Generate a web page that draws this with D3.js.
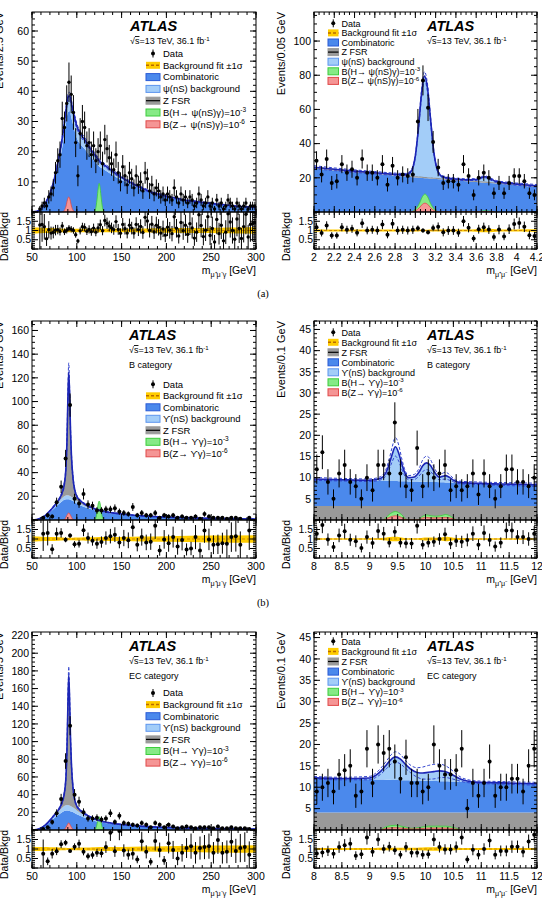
<!DOCTYPE html>
<html>
<head>
<meta charset="utf-8">
<script src="https://cdn.jsdelivr.net/npm/d3@7"></script>
<style>
  body { margin: 0; background: #fff; }
  text { font-family: "Liberation Sans", Arial, Helvetica, sans-serif; fill: #000; }
</style>
</head>
<body>
<svg id="fig" width="542" height="907"></svg>
<script>
// ---------------- data ----------------

// (a) left: m(mu mu gamma), psi selection, 2.5 GeV bins from 50 to 300
const aL_bins = { start: 50, width: 2.5 };
const aL_data = [0,0,0,1,2,3,2,5,6,8, 13,17,19,31,28,36,43,39,33,23,
  12,26,30,28,22,23,19,22,17,20, 22,16,24,21,18,16,14,19,13,10,
  15,12,9,13,11,8,12,9,10,7, 13,11,7,9,6,8,7,5,6,4,
  6,5,4,8,5,3,6,4,5,3, 5,4,2,3,6,4,2,3,5,2,
  3,1,4,2,3,1,2,4,3,2, 1,3,2,1,2,3,1,2,2,2];
const aL_ratio = [null,null,null,1.3,1.33,1.2,0.56,1.04,0.86,0.89,
  1.02,1.05,0.95,1.24,0.93,1.01,1.12,1.07,1.0,0.77,
  0.43,0.98,1.2,1.17,0.96,1.06,0.93,1.13,0.91,1.14,
  1.31,0.99,1.54,1.39,1.24,1.14,1.05,1.48,1.06,0.85,
  1.33,1.1,0.86,1.29,1.13,0.86,1.33,1.05,1.22,0.89,
  1.71,1.51,1.0,1.34,0.92,1.29,1.17,0.86,1.09,0.75,
  1.18,1.01,0.83,1.74,1.12,0.7,1.43,0.99,1.28,0.79,
  1.37,1.14,0.59,0.91,1.85,1.27,0.67,1.02,1.75,0.73,
  1.11,0.38,1.6,0.83,1.28,0.44,0.91,1.9,1.46,1.0,
  0.53,1.62,1.11,0.57,1.21,1.88,0.65,1.33,1.38,1.43];
const aL_curveX = [50,55,60,65,70,75,80,85,88,90,92,94,97,100,105,110,115,120,125,130,140,150,160,170,180,190,200,220,240,260,280,300];
const aL_comb = [0.05,0.2,0.9,2.7,5.4,10,16,23.5,29.5,33,33.5,31.2,27.6,24.5,22.1,20.5,18.4,16.8,15.1,14.2,12.3,10.6,9.2,7.9,6.7,5.8,5.05,3.9,3.2,2.5,1.9,1.5];
const aL_psi = [0,0,0.1,0.3,0.6,1,2,3.5,4.5,5,5,4.8,4.4,4,3.4,3,2.6,2.2,1.9,1.6,1.2,0.9,0.6,0.4,0.3,0.2,0.15,0.1,0,0,0,0];
const aL_err = [0.004,0.016,0.1,0.2,0.3,0.5,0.7,0.9,1.1,1.2,1.2,1.1,1.0,0.9,0.8,0.75,0.7,0.65,0.6,0.55,0.5,0.45,0.4,0.36,0.32,0.3,0.27,0.22,0.2,0.18,0.15,0.14];
const aL_band = [0.16,0.16,0.15,0.14,0.13,0.12,0.11,0.1,0.09,0.09,0.09,0.09,0.09,0.09,0.09,0.09,0.09,0.09,0.09,0.09,0.1,0.1,0.1,0.11,0.11,0.12,0.12,0.13,0.14,0.15,0.16,0.17];
const aL_hX = [119,121,122.5,124,125,126,127.5,129,131];
const aL_hY = [0,1,4,8,9.5,8,4,1,0];
const aL_zX = [84,86,88,89.5,91,92.5,94,96,98];
const aL_zY = [0,0.5,2,4,5,4,2,0.5,0];

// (a) right: m(mu mu), 0.05 GeV bins from 2 to 4.2
const aR_bins = { start: 2, width: 0.05 };
const aR_data = [30,22,31,17,18,28,23,25,20,31, 23,23,20,28,16,27,20,22,21,22,
  53,77,61,41,26,17,18,18,16,28, 21,10,20,23,20,11,17,11,17,21, 21,18,11,10];
const aR_ratio = [1.18,0.86,1.27,0.73,0.73,1.18,1.04,1.09,0.88,1.39,
  1.0,1.04,1.0,1.32,0.77,1.36,1.0,1.04,1.0,1.04,
  1.12,1.0,0.9,1.14,1.2,0.9,1.0,1.0,0.88,1.5,
  1.15,0.57,1.07,1.18,1.05,0.65,1.05,0.68,1.07,1.35, 1.4,1.2,0.75,0.7];
const aR_curveX = [2.0,2.2,2.4,2.6,2.8,2.9,2.95,3.0,3.03,3.06,3.09,3.12,3.15,3.18,3.21,3.25,3.3,3.4,3.5,3.6,3.65,3.69,3.73,3.8,3.9,4.0,4.1,4.2];
const aR_comb = [25.5,24.3,23.2,22.2,21.2,20.7,20.5,20.2,20.1,20,19.8,19.7,19.5,19.4,19.3,19.1,18.9,18.4,18,17.5,17.3,17.1,16.9,16.6,16.1,15.6,15.1,14.6];
const aR_zfsr = [0.7,0.7,0.7,0.7,0.7,0.7,0.7,0.7,0.7,0.7,0.7,0.7,0.7,0.7,0.7,0.7,0.7,0.7,0.7,0.7,0.7,0.7,0.7,0.7,0.7,0.7,0.7,0.7];
const aR_psi = [0,0,0,0.1,0.2,0.5,2,12,28,48,59,52,34,16,6,1.5,0.5,0.2,0.2,0.8,2.2,2.8,2.0,0.5,0.1,0,0,0];
const aR_err = [0.9,0.8,0.75,0.7,0.65,0.65,0.7,1.0,1.5,2.2,2.6,2.4,1.7,1.0,0.7,0.6,0.6,0.55,0.55,0.55,0.6,0.6,0.6,0.6,0.6,0.65,0.7,0.75];
const aR_band = [0.07,0.06,0.06,0.06,0.06,0.06,0.06,0.05,0.05,0.04,0.04,0.04,0.05,0.05,0.06,0.06,0.06,0.06,0.06,0.07,0.09,0.1,0.09,0.07,0.06,0.06,0.07,0.07];
const aR_hX = [2.95,3.0,3.04,3.07,3.095,3.12,3.15,3.19,3.24,3.6,3.65,3.69,3.73,3.78];
const aR_hY = [0,1.5,5,9,10.5,9,5,1.5,0,0,0.5,0.8,0.5,0];
const aR_zY = [0,0.7,2.5,4.5,5.2,4.5,2.5,0.7,0,0,0.2,0.3,0.2,0];

// (b) left: m(mu mu gamma), Upsilon, B category, 5 GeV bins
const bL_bins = { start: 50, width: 5 };
const bL_data = [0,0,2,4,3,15,28,52,97,18, 14,22,13,12,8,8,9,9,10,7,
  6,5,11,4,6,4,4,6,2,4, 3,4,2,3,2,2,3,1,5,3, 2,2,2,1,2,2,1,0,2,0];
const bL_ratio = [null,null,1.27,1.32,0.46,1.27,1.32,0.96,1.18,0.72,
  0.75,1.46,1.05,0.91,0.75,0.84,1.05,1.15,1.23,0.82,
  1.05,0.93,1.62,0.7,1.1,0.82,0.86,1.7,0.4,0.98,
  0.78,1.1,0.6,0.95,0.45,0.5,1.1,0.4,1.45,0.98,
  0.7,0.72,0.78,0.75,1.1,1.15,0.7,null,1.45,null];
const lowCurveX = [50,55,60,65,70,75,80,84,86,88,89,90,91,92,93,94,96,98,100,105,110,115,120,130,140,150,175,200,250,300];
const bL_comb = [0.05,0.3,1.5,3.5,6.5,10,13.5,16,17,17.5,17.6,17.6,17.5,17.3,17,16.6,16,15,14,12,10.5,9.2,8.2,6.6,5.5,4.7,3.3,2.4,1.4,0.9];
const bL_ups = [0,0,0.2,0.5,1,1.5,2.2,2.8,3,3.2,3.2,3.2,3.2,3.1,3,2.9,2.7,2.4,2.1,1.6,1.2,0.9,0.7,0.4,0.3,0.2,0.1,0.05,0,0];
const bL_zfsr = [0,0,0,0,0.2,0.6,1.5,5,10,25,45,80,104,85,55,35,15,7,4,2,1.2,0.8,0.5,0.3,0.2,0.1,0,0,0,0];
const bL_err = [0.005,0.05,0.15,0.3,0.5,0.7,0.9,1.3,1.8,2.8,4,6,8,6.5,4.5,3,1.8,1.1,0.9,0.7,0.6,0.5,0.45,0.38,0.32,0.28,0.22,0.18,0.12,0.1];
const bL_band = [0.14,0.13,0.12,0.11,0.1,0.1,0.09,0.08,0.07,0.07,0.06,0.06,0.06,0.06,0.06,0.07,0.07,0.08,0.08,0.08,0.09,0.09,0.09,0.1,0.11,0.11,0.13,0.15,0.18,0.2];
const bL_hX = [120,122,123.5,125,126.5,128,130];
const bL_hY = [0,4,12,16,12,4,0];
const bL_zX = [85,87,89,91,93,95,97];
const bL_zY = [0,1,4,6,4,1,0];

// (b) right: m(mu mu), B category, 0.1 GeV bins from 8 to 12
const bR_bins = { start: 8, width: 0.1 };
const bR_data = [12,16,9,5,11,13,9,8,5,10, 7,13,13,11,23,11,8,7,17,8,
  11,10,11,13,7,8,7,8,11,6, 11,8,5,8,12,12,9,9,8,10];
const bR_ratio = [1.28,1.74,0.97,0.58,1.19,1.41,0.96,0.88,0.53,1.1,
  0.79,1.42,1.28,0.8,1.38,0.8,0.78,0.76,1.7,0.7,
  0.8,0.86,1.0,1.25,0.75,0.9,0.85,0.95,1.28,0.7,
  1.32,0.95,0.6,0.8,1.45,1.45,1.1,1.1,1.0,1.28];
const bR_curveX = [8,8.5,9,9.2,9.3,9.35,9.4,9.46,9.52,9.57,9.62,9.7,9.8,9.9,9.95,10.02,10.09,10.15,10.25,10.3,10.36,10.42,10.5,10.6,11,11.5,12];
const bR_zfsr = [3.3,3.3,3.3,3.3,3.3,3.3,3.3,3.3,3.3,3.3,3.3,3.3,3.3,3.3,3.3,3.3,3.3,3.3,3.3,3.3,3.3,3.3,3.3,3.3,3.3,3.3,3.3];
const bR_comb = [6.4,6.22,6.05,5.98,5.95,5.93,5.91,5.89,5.87,5.85,5.83,5.8,5.77,5.73,5.72,5.69,5.67,5.65,5.61,5.6,5.57,5.55,5.52,5.49,5.35,5.17,5.0];
const bR_ups = [0,0,0.05,0.6,2.2,4,6.2,8.1,6.6,4.3,2.3,0.9,1.1,2.6,3.8,4.5,3.9,2.6,1.2,1.4,1.6,1.3,0.6,0.1,0,0,0];
const bR_err = [0.35,0.3,0.3,0.4,0.8,1.2,1.7,2.2,1.9,1.3,0.8,0.5,0.6,1.0,1.4,1.6,1.4,1.0,0.6,0.7,0.8,0.7,0.4,0.3,0.3,0.35,0.4];
const bR_band = [0.04,0.04,0.04,0.05,0.08,0.1,0.12,0.12,0.11,0.08,0.05,0.04,0.04,0.05,0.07,0.08,0.08,0.07,0.07,0.09,0.12,0.11,0.07,0.05,0.04,0.04,0.04];
const bR_hX = [9.25,9.35,9.46,9.57,9.67,9.85,9.95,10.02,10.1,10.2,10.3,10.36,10.45,10.55];
const bR_hY = [0,1.3,2,1.3,0,0,0.9,1.2,1.0,0.9,1.1,1.3,0.9,0];
const bR_zY = [0,0.6,1,0.6,0,0,0.5,0.6,0.5,0.5,0.55,0.6,0.45,0];

// (c) left: m(mu mu gamma), EC category, 5 GeV bins
const cL_bins = { start: 50, width: 5 };
const cL_data = [0,0,1,3,9,19,35,78,118,40, 32,20,13,13,14,12,13,19,9,16,
  8,7,6,5,8,6,3,8,6,3, 6,4,2,3,4,3,2,3,3,3, 2,4,2,2,3,2,2,2,1,0];
const cL_ratio = [null,null,0.75,0.35,0.75,0.88,1.25,1.33,0.9,1.12,
  1.27,0.86,0.62,0.68,0.8,0.78,1.1,1.85,0.88,1.95,
  0.92,0.7,0.75,0.45,1.41,0.85,0.33,1.42,0.95,0.4,
  1.3,0.95,0.5,0.8,1.05,1.15,0.8,1.05,1.1,1.15,
  0.8,1.48,0.8,0.85,1.38,0.9,1.05,1.1,0.7,null];
const cL_comb = [0.05,0.4,2,5,9,13.5,17.5,20.5,21.5,22,22,22,21.8,21.5,21.2,20.8,20,19,17.8,15.5,13.5,11.8,10.3,8.2,6.8,5.8,4,2.9,1.7,1.1];
const cL_ups = [0,0,0.3,0.8,1.6,2.6,3.8,5,5.6,6,6.2,6.3,6.3,6.2,6,5.8,5.4,4.9,4.3,3.3,2.5,1.9,1.4,0.8,0.5,0.3,0.1,0.05,0,0];
const cL_zfsr = [0,0,0,0,0.3,0.9,2.2,7,14,34,62,110,147,118,76,48,20,9,5,2.6,1.6,1,0.7,0.4,0.2,0.1,0,0,0,0];
const cL_err = [0.005,0.05,0.2,0.4,0.7,0.9,1.2,1.7,2.4,3.8,5.5,8,10,8.5,6,4,2.4,1.5,1.2,0.95,0.8,0.7,0.6,0.5,0.42,0.36,0.28,0.22,0.16,0.12];
const cL_band = [0.12,0.11,0.1,0.1,0.09,0.09,0.08,0.07,0.06,0.06,0.05,0.05,0.05,0.05,0.05,0.06,0.06,0.07,0.07,0.08,0.08,0.08,0.09,0.1,0.1,0.11,0.13,0.15,0.18,0.2];
const cL_hY = [0,4,11,15,11,4,0];
const cL_zY = [0,1.5,5,8,5,1.5,0];

// (c) right: m(mu mu), EC category, 0.1 GeV bins from 8 to 12
const cR_bins = { start: 8, width: 0.1 };
const cR_data = [9,10,11,9,13,14,15,8,9,19, 11,20,18,19,16,12,17,11,11,9,
  10,20,15,13,13,14,19,5,11,8, 11,16,8,10,10,12,12,9,15,19];
const cR_ratio = [0.76,0.82,0.9,0.75,1.1,1.2,1.27,0.65,0.72,1.6,
  0.85,1.5,1.0,1.12,0.93,0.7,1.1,0.8,0.8,0.7,
  0.73,1.5,1.1,0.98,0.98,1.1,1.6,0.45,0.96,0.7,
  1.0,1.45,0.7,0.9,0.9,1.12,1.12,0.85,1.4,1.75];
const cR_curveX = [8,8.5,9,9.1,9.2,9.3,9.4,9.46,9.55,9.65,9.75,9.85,9.95,10.05,10.15,10.25,10.35,10.45,10.55,10.65,10.75,10.9,11.2,11.6,12];
const cR_zfsr = [4.1,4.1,4.1,4.1,4.1,4.1,4.1,4.1,4.1,4.1,4.1,4.1,4.1,4.1,4.1,4.1,4.1,4.1,4.1,4.1,4.1,4.1,4.1,4.1,4.1];
const cR_comb = [8.1,7.93,7.75,7.72,7.68,7.65,7.61,7.59,7.56,7.53,7.49,7.46,7.42,7.39,7.35,7.32,7.28,7.25,7.21,7.18,7.14,7.09,6.98,6.84,6.7];
const cR_ups = [0,0,0.3,0.9,2.0,3.5,5.0,5.4,4.9,3.6,2.5,1.9,1.8,2.0,2.2,2.4,2.3,1.8,1.1,0.5,0.2,0,0,0,0];
const cR_err = [0.3,0.3,0.4,0.5,0.7,0.9,1.1,1.2,1.1,0.9,0.9,1.1,1.4,1.6,1.7,1.6,1.4,1.1,0.7,0.45,0.35,0.3,0.3,0.3,0.35];
const cR_band = [0.05,0.05,0.05,0.05,0.06,0.06,0.07,0.07,0.07,0.06,0.06,0.07,0.08,0.09,0.09,0.09,0.08,0.07,0.06,0.05,0.05,0.05,0.05,0.05,0.05];
const cR_hX = [9.2,9.3,9.46,9.6,9.75,9.9,10.05,10.2,10.36,10.5,10.65];
const cR_hY = [0,0.8,1.1,0.8,0.4,0.6,0.9,0.9,0.9,0.6,0];
const cR_zY = [0,0.4,0.55,0.4,0.25,0.3,0.45,0.45,0.45,0.3,0];

// legend entries
const psiLegendL = ['data','fit','comb','res','zfsr','green','red'];
const psiLegendR = ['data','fit','comb','zfsr','res','green','red'];
const upsLegendL = ['data','fit','comb','res','zfsr','green','red'];
const upsLegendR = ['data','fit','zfsr','comb','res','green','red'];

// ---------------- drawing ----------------
const svg = d3.select('#fig');
const defs = svg.append('defs');

const rows = [
  { top: 12, mid: 212, bot: 249 },
  { top: 321, mid: 520, bot: 558 },
  { top: 632, mid: 830, bot: 868 }
];
const cols = [{ x0: 32, x1: 256 }, { x0: 314, x1: 537 }];

const C = {
  comb: '#4b89ec', combLine: '#2a5bd6',
  res: '#a3cdf8', resLine: '#5d95ee',
  zfsr: '#9a9a9a',
  green: '#86ea86', greenLine: '#3ccc3c',
  red: '#f59595', redLine: '#e04a4a',
  fit: '#1c25b5', dash: '#3445cf',
  band: '#ffcc00', bandLine: '#b86a00'
};

// text with super/subscripts: parts = [[string, mode]]
function rich(t, parts, fs) {
  let shift = 0;
  parts.forEach(([s, m]) => {
    const target = m === 'sup' ? -0.38 * fs : m === 'sub' ? 0.3 * fs : 0;
    const ts = t.append('tspan').text(s).attr('dy', target - shift);
    if (m === 'sup' || m === 'sub') ts.attr('font-size', fs * 0.68);
    if (m === 'ovl') ts.attr('text-decoration', 'overline');
    shift = target;
  });
}

function stepRange(a, b, s) {
  const n = Math.round((b - a) / s);
  return d3.range(n + 1).map(i => +(a + i * s).toFixed(4));
}

function drawPanel(p) {
  const { x0, x1 } = cols[p.col];
  const { top, mid, bot } = rows[p.row];
  const x = d3.scaleLinear().domain(p.xDomain).range([x0, x1]);
  const y = d3.scaleLinear().domain([0, p.yMax]).range([mid, top]);
  const yr = d3.scaleLinear().domain([0, 2]).range([bot, mid]);
  const id = 'p' + p.row + p.col;

  defs.append('clipPath').attr('id', id + 'm')
    .append('rect').attr('x', x0).attr('y', top).attr('width', x1 - x0).attr('height', mid - top);
  defs.append('clipPath').attr('id', id + 'r')
    .append('rect').attr('x', x0).attr('y', mid).attr('width', x1 - x0).attr('height', bot - mid);

  const g = svg.append('g');
  const gm = g.append('g').attr('clip-path', `url(#${id}m)`);
  const gr = g.append('g').attr('clip-path', `url(#${id}r)`);

  // stacked background components
  let base = p.curveX.map(() => 0);
  p.stack.forEach(s => {
    const lo = base.slice();
    const hi = base.map((b, i) => b + s.vals[i]);
    const area = d3.area()
      .x((d, i) => x(p.curveX[i]))
      .y0((d, i) => y(lo[i]))
      .y1((d, i) => y(hi[i]))
      .curve(d3.curveMonotoneX);
    gm.append('path').datum(p.curveX).attr('d', area).attr('fill', s.fill);
    if (s.edge) {
      const ln = d3.line().x((d, i) => x(p.curveX[i])).y((d, i) => y(hi[i])).curve(d3.curveMonotoneX);
      gm.append('path').datum(p.curveX).attr('d', ln)
        .attr('fill', 'none').attr('stroke', s.edge).attr('stroke-width', s.edgeW || 1);
    }
    base = hi;
  });
  const total = base;

  // signal hypotheses
  p.signals.forEach(s => {
    const area = d3.area().x((d, i) => x(s.x[i])).y0(y(0)).y1(d => y(d)).curve(d3.curveMonotoneX);
    gm.append('path').datum(s.y).attr('d', area)
      .attr('fill', s.fill).attr('stroke', s.stroke).attr('stroke-width', 0.8);
  });

  // fit +-1 sigma (dashed) and central fit
  const fitLine = arr => d3.line().x((d, i) => x(p.curveX[i])).y((d, i) => y(arr[i])).curve(d3.curveMonotoneX);
  const up = total.map((t, i) => t + p.err[i]);
  const dn = total.map((t, i) => Math.max(0, t - p.err[i]));
  [up, dn].forEach(arr => {
    gm.append('path').datum(p.curveX).attr('d', fitLine(arr))
      .attr('fill', 'none').attr('stroke', C.dash).attr('stroke-width', 1).attr('stroke-dasharray', '3,2');
  });
  gm.append('path').datum(p.curveX).attr('d', fitLine(total))
    .attr('fill', 'none').attr('stroke', C.fit).attr('stroke-width', 1.6);

  // data points with Poisson-style error bars
  const pts = p.data.map((n, i) => ({ m: p.bins.start + p.bins.width * (i + 0.5), n, r: p.ratio[i] }));
  const shown = pts.filter(d => d.n > 0);
  gm.selectAll('line.err').data(shown).enter().append('line')
    .attr('x1', d => x(d.m)).attr('x2', d => x(d.m))
    .attr('y1', d => y(d.n - Math.sqrt(d.n))).attr('y2', d => y(d.n + Math.sqrt(d.n)))
    .attr('stroke', '#000').attr('stroke-width', 1);
  gm.selectAll('circle').data(shown).enter().append('circle')
    .attr('cx', d => x(d.m)).attr('cy', d => y(d.n)).attr('r', p.dot).attr('fill', '#000');

  // ratio panel: fit uncertainty band around 1
  const band = d3.area().x((d, i) => x(p.curveX[i]))
    .y0((d, i) => yr(1 - p.band[i])).y1((d, i) => yr(1 + p.band[i])).curve(d3.curveMonotoneX);
  gr.append('path').datum(p.curveX).attr('d', band).attr('fill', C.band);
  gr.append('line').attr('x1', x0).attr('x2', x1).attr('y1', yr(1)).attr('y2', yr(1))
    .attr('stroke', C.bandLine).attr('stroke-width', 0.7).attr('stroke-dasharray', '3,2');
  const rpts = pts.filter(d => d.r != null && d.n > 0);
  gr.selectAll('line.rerr').data(rpts).enter().append('line')
    .attr('x1', d => x(d.m)).attr('x2', d => x(d.m))
    .attr('y1', d => yr(d.r - d.r / Math.sqrt(d.n))).attr('y2', d => yr(d.r + d.r / Math.sqrt(d.n)))
    .attr('stroke', '#000').attr('stroke-width', 1);
  gr.selectAll('circle').data(rpts).enter().append('circle')
    .attr('cx', d => x(d.m)).attr('cy', d => yr(d.r)).attr('r', p.dot).attr('fill', '#000');

  // frames
  [[top, mid], [mid, bot]].forEach(([a, b]) => {
    g.append('rect').attr('x', x0).attr('y', a).attr('width', x1 - x0).attr('height', b - a)
      .attr('fill', 'none').attr('stroke', '#000').attr('stroke-width', 1);
  });

  // ticks (ROOT style, inward, all four sides)
  const tk = g.append('g').attr('stroke', '#000').attr('stroke-width', 1);
  const xMinor = stepRange(p.xDomain[0], p.xDomain[1], p.xMinor);
  const xMajor = stepRange(p.xDomain[0], p.xDomain[1], p.xMajor);
  [[top, mid], [mid, bot]].forEach(([a, b]) => {
    xMinor.forEach(v => {
      tk.append('line').attr('x1', x(v)).attr('x2', x(v)).attr('y1', b).attr('y2', b - 3);
      tk.append('line').attr('x1', x(v)).attr('x2', x(v)).attr('y1', a).attr('y2', a + 3);
    });
    xMajor.forEach(v => {
      tk.append('line').attr('x1', x(v)).attr('x2', x(v)).attr('y1', b).attr('y2', b - 6);
      tk.append('line').attr('x1', x(v)).attr('x2', x(v)).attr('y1', a).attr('y2', a + 6);
    });
  });
  const yTicks = (scale, vals, len) => vals.forEach(v => {
    tk.append('line').attr('x1', x0).attr('x2', x0 + len).attr('y1', scale(v)).attr('y2', scale(v));
    tk.append('line').attr('x1', x1).attr('x2', x1 - len).attr('y1', scale(v)).attr('y2', scale(v));
  });
  yTicks(y, stepRange(0, p.yMax, p.yMinor).filter(v => v <= p.yMax), 3);
  yTicks(y, stepRange(0, p.yMax, p.yMajor).filter(v => v <= p.yMax), 6);
  yTicks(yr, stepRange(0, 2, 0.1), 3);
  yTicks(yr, stepRange(0, 2, 0.5), 6);

  // tick labels
  const fmt = d3.format('~g');
  xMajor.forEach(v => {
    g.append('text').attr('x', x(v)).attr('y', bot + 12).attr('text-anchor', 'middle')
      .attr('font-size', 10.5).text(fmt(v));
  });
  stepRange(p.yMajor, p.yMax, p.yMajor).filter(v => v <= p.yMax).forEach(v => {
    g.append('text').attr('x', x0 - 3).attr('y', y(v) + 3.7).attr('text-anchor', 'end')
      .attr('font-size', 10.5).text(fmt(v));
  });
  [0.5, 1, 1.5].forEach(v => {
    g.append('text').attr('x', x0 - 1).attr('y', yr(v) + 3.7).attr('text-anchor', 'end')
      .attr('font-size', 10.5).text(fmt(v));
  });

  // axis titles
  g.append('text').attr('transform', `translate(${x0 - 29},${top}) rotate(-90)`)
    .attr('text-anchor', 'end').attr('font-size', 11).text(p.yTitle);
  g.append('text').attr('transform', `translate(${x0 - 24},${mid}) rotate(-90)`)
    .attr('text-anchor', 'end').attr('font-size', 10.5).text('Data/Bkgd');
  const xt = g.append('text').attr('x', x1).attr('y', bot + 25).attr('text-anchor', 'end').attr('font-size', 10.5);
  rich(xt, [['m', 'n'], [p.xSub, 'sub'], [' [GeV]', 'n']], 10.5);

  // ATLAS label block
  g.append('text').attr('x', p.atlasX).attr('y', top + 19).attr('font-size', 14.5)
    .attr('font-weight', 'bold').attr('font-style', 'italic').text('ATLAS');
  const lum = g.append('text').attr('x', p.atlasX).attr('y', top + 32).attr('font-size', 9);
  rich(lum, [['√', 'n'], ['s', 'ovl'], ['=13 TeV, 36.1 fb', 'n'], ['-1', 'sup']], 9);
  if (p.category) {
    g.append('text').attr('x', p.atlasX).attr('y', top + 47).attr('font-size', 9).text(p.category);
  }

  // legend
  const L = p.legend;
  L.items.forEach((key, k) => {
    const cy = top + L.y0 + k * L.dy;
    const bx = x0 + L.bx, bw = L.bw, bh = 7;
    const sw = g.append('g');
    if (key === 'data') {
      sw.append('line').attr('x1', bx + bw / 2).attr('x2', bx + bw / 2).attr('y1', cy - 4).attr('y2', cy + 4)
        .attr('stroke', '#000');
      sw.append('circle').attr('cx', bx + bw / 2).attr('cy', cy).attr('r', 2);
    } else if (key === 'fit') {
      sw.append('rect').attr('x', bx).attr('y', cy - bh / 2).attr('width', bw).attr('height', bh).attr('fill', C.band);
      sw.append('line').attr('x1', bx).attr('x2', bx + bw).attr('y1', cy).attr('y2', cy)
        .attr('stroke', C.bandLine).attr('stroke-width', 1.5).attr('stroke-dasharray', '3,2');
    } else if (key === 'zfsr') {
      sw.append('rect').attr('x', bx).attr('y', cy - bh / 2).attr('width', bw).attr('height', bh)
        .attr('fill', C.zfsr).attr('stroke', C.zfsr);
      sw.append('line').attr('x1', bx).attr('x2', bx + bw).attr('y1', cy).attr('y2', cy)
        .attr('stroke', '#000').attr('stroke-width', 1.2);
    } else {
      const f = { comb: [C.comb, C.combLine], res: [C.res, C.resLine], green: [C.green, C.greenLine], red: [C.red, C.redLine] }[key];
      sw.append('rect').attr('x', bx).attr('y', cy - bh / 2).attr('width', bw).attr('height', bh)
        .attr('fill', f[0]).attr('stroke', f[1]).attr('stroke-width', 1);
    }
    const t = g.append('text').attr('x', bx + bw + 3).attr('y', cy + 3.3).attr('font-size', L.fs);
    rich(t, p.labels[key], L.fs);
  });
}

function labelsFor(res, resSignal) {
  return {
    data: [['Data', 'n']],
    fit: [['Background fit ±1σ', 'n']],
    comb: [['Combinatoric', 'n']],
    res: [[res + ' background', 'n']],
    zfsr: [['Z FSR', 'n']],
    green: [['B(H→ ' + resSignal + 'γ)=10', 'n'], ['-3', 'sup']],
    red: [['B(Z→ ' + resSignal + 'γ)=10', 'n'], ['-6', 'sup']]
  };
}
const psiLabels = labelsFor('ψ(nS)', 'ψ(nS)');
const upsLabels = labelsFor('ϒ(nS)', 'ϒ');

const legLeft = (items, y0, dy) => ({ items, y0, dy, bx: 114, bw: 14, fs: 9.5 });
const legRight = (items, y0, dy) => ({ items, y0, dy, bx: 14, bw: 10.5, fs: 9 });

drawPanel({
  row: 0, col: 0, xDomain: [50, 300], yMax: 66.3, xMajor: 50, xMinor: 10, yMajor: 10, yMinor: 2,
  bins: aL_bins, data: aL_data, ratio: aL_ratio, curveX: aL_curveX, err: aL_err, band: aL_band, dot: 1.7,
  stack: [{ vals: aL_comb, fill: C.comb }, { vals: aL_psi, fill: C.res }],
  signals: [{ x: aL_hX, y: aL_hY, fill: C.green, stroke: C.greenLine }, { x: aL_zX, y: aL_zY, fill: C.red, stroke: C.redLine }],
  yTitle: 'Events/2.5 GeV', xSub: 'μ⁺μ⁻γ', atlasX: 130,
  legend: legLeft(psiLegendL, 41.5, 11.8), labels: psiLabels
});
drawPanel({
  row: 0, col: 1, xDomain: [2, 4.2], yMax: 117, xMajor: 0.2, xMinor: 0.05, yMajor: 20, yMinor: 5,
  bins: aR_bins, data: aR_data, ratio: aR_ratio, curveX: aR_curveX, err: aR_err, band: aR_band, dot: 2,
  stack: [{ vals: aR_comb, fill: C.comb }, { vals: aR_zfsr, fill: C.zfsr, edge: '#8a8a8a', edgeW: 1 }, { vals: aR_psi, fill: C.res }],
  signals: [{ x: aR_hX, y: aR_hY, fill: C.green, stroke: C.greenLine }, { x: aR_hX, y: aR_zY, fill: C.red, stroke: C.redLine }],
  yTitle: 'Events/0.05 GeV', xSub: 'μ⁺μ⁻', atlasX: 427,
  legend: legRight(psiLegendR, 11.3, 9.6), labels: psiLabels
});
drawPanel({
  row: 1, col: 0, xDomain: [50, 300], yMax: 168, xMajor: 50, xMinor: 10, yMajor: 20, yMinor: 5,
  bins: bL_bins, data: bL_data, ratio: bL_ratio, curveX: lowCurveX, err: bL_err, band: bL_band, dot: 2,
  stack: [{ vals: bL_comb, fill: C.comb }, { vals: bL_ups, fill: C.res }, { vals: bL_zfsr, fill: C.zfsr }],
  signals: [{ x: bL_hX, y: bL_hY, fill: C.green, stroke: C.greenLine }, { x: bL_zX, y: bL_zY, fill: C.red, stroke: C.redLine }],
  yTitle: 'Events/5 GeV', xSub: 'μ⁺μ⁻γ', atlasX: 129, category: 'B category',
  legend: legLeft(upsLegendL, 63.3, 11.5), labels: upsLabels
});
drawPanel({
  row: 1, col: 1, xDomain: [8, 12], yMax: 47, xMajor: 0.5, xMinor: 0.1, yMajor: 5, yMinor: 1,
  bins: bR_bins, data: bR_data, ratio: bR_ratio, curveX: bR_curveX, err: bR_err, band: bR_band, dot: 2,
  stack: [{ vals: bR_zfsr, fill: C.zfsr }, { vals: bR_comb, fill: C.comb }, { vals: bR_ups, fill: C.res }],
  signals: [{ x: bR_hX, y: bR_hY, fill: C.green, stroke: C.greenLine }, { x: bR_hX, y: bR_zY, fill: C.red, stroke: C.redLine }],
  yTitle: 'Events/0.1 GeV', xSub: 'μ⁺μ⁻', atlasX: 427, category: 'B category',
  legend: legRight(upsLegendR, 11.3, 10), labels: upsLabels
});
drawPanel({
  row: 2, col: 0, xDomain: [50, 300], yMax: 224, xMajor: 50, xMinor: 10, yMajor: 20, yMinor: 5,
  bins: cL_bins, data: cL_data, ratio: cL_ratio, curveX: lowCurveX, err: cL_err, band: cL_band, dot: 2,
  stack: [{ vals: cL_comb, fill: C.comb }, { vals: cL_ups, fill: C.res }, { vals: cL_zfsr, fill: C.zfsr }],
  signals: [{ x: bL_hX, y: cL_hY, fill: C.green, stroke: C.greenLine }, { x: bL_zX, y: cL_zY, fill: C.red, stroke: C.redLine }],
  yTitle: 'Events/5 GeV', xSub: 'μ⁺μ⁻γ', atlasX: 129, category: 'EC category',
  legend: legLeft(upsLegendL, 61, 11.6), labels: upsLabels
});
drawPanel({
  row: 2, col: 1, xDomain: [8, 12], yMax: 46.3, xMajor: 0.5, xMinor: 0.1, yMajor: 5, yMinor: 1,
  bins: cR_bins, data: cR_data, ratio: cR_ratio, curveX: cR_curveX, err: cR_err, band: cR_band, dot: 2,
  stack: [{ vals: cR_zfsr, fill: C.zfsr }, { vals: cR_comb, fill: C.comb }, { vals: cR_ups, fill: C.res }],
  signals: [{ x: cR_hX, y: cR_hY, fill: C.green, stroke: C.greenLine }, { x: cR_hX, y: cR_zY, fill: C.red, stroke: C.redLine }],
  yTitle: 'Events/0.1 GeV', xSub: 'μ⁺μ⁻', atlasX: 427, category: 'EC category',
  legend: legRight(upsLegendR, 9.3, 10.1), labels: upsLabels
});

// sub-figure labels
[['(a)', 297], ['(b)', 606]].forEach(([s, yy]) => {
  svg.append('text').attr('x', 263).attr('y', yy).attr('text-anchor', 'middle')
    .style('font-family', '"Liberation Serif", "Times New Roman", serif')
    .attr('font-size', 10.5).text(s);
});
</script>
</body>
</html>
